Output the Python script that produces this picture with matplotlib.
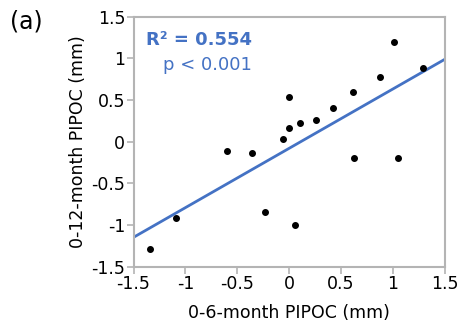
import matplotlib
matplotlib.use('Agg')
import matplotlib.pyplot as plt
import numpy as np

# values
pipoc_6m = [-1.344, -1.091, -0.600, -0.359, -0.234, -0.061, 0.000, 0.003, 0.061,
            0.103, 0.260, 0.423, 0.619, 0.629, 0.876, 1.011, 1.052, 1.290]
pipoc_12m = [-1.284, -0.912, -0.116, -0.132, -0.840, 0.032, 0.164, 0.532, -1.004,
             0.228, 0.260, 0.408, 0.592, -0.196, 0.772, 1.192, -0.200, 0.888]
fit_slope = 0.712
fit_intercept = -0.080
ticks = [-1.5, -1, -0.5, 0, 0.5, 1, 1.5]
tick_labels = ['-1.5', '-1', '-0.5', '0', '0.5', '1', '1.5']

blue = '#4472C4'
grey = '#b4b4b4'

fig = plt.figure(figsize=(4.66, 3.26), dpi=100)
ax = fig.add_axes([0.2865, 0.182, 0.668, 0.767])

xs = np.array([-1.5, 1.5])
ax.plot(xs, fit_slope * xs + fit_intercept, color=blue, lw=2, zorder=2)
ax.plot(pipoc_6m, pipoc_12m, 'o', color='black', markersize=4, zorder=3)

ax.set_xlim(-1.5, 1.5)
ax.set_ylim(-1.5, 1.5)
ax.set_xticks(ticks)
ax.set_xticklabels(tick_labels)
ax.set_yticks(ticks)
ax.set_yticklabels(tick_labels)
for s in ax.spines.values():
    s.set_color(grey)
    s.set_linewidth(1.5)
ax.tick_params(direction='out', length=5, width=1.2, color=grey,
               labelsize=12.5, pad=1)

ax.set_xlabel('0-6-month PIPOC (mm)', fontsize=12.5, labelpad=8)
ax.set_ylabel('0-12-month PIPOC (mm)', fontsize=12.5, labelpad=3)

ax.text(0.38, 0.907, 'R² = 0.554', transform=ax.transAxes, color=blue,
        fontsize=13, fontweight='bold', ha='right', va='center')
ax.text(0.38, 0.807, 'p < 0.001', transform=ax.transAxes, color=blue,
        fontsize=13, ha='right', va='center')

fig.text(0.022, 0.935, '(a)', fontsize=17, ha='left', va='center')

fig.savefig('out.png', dpi=100)
